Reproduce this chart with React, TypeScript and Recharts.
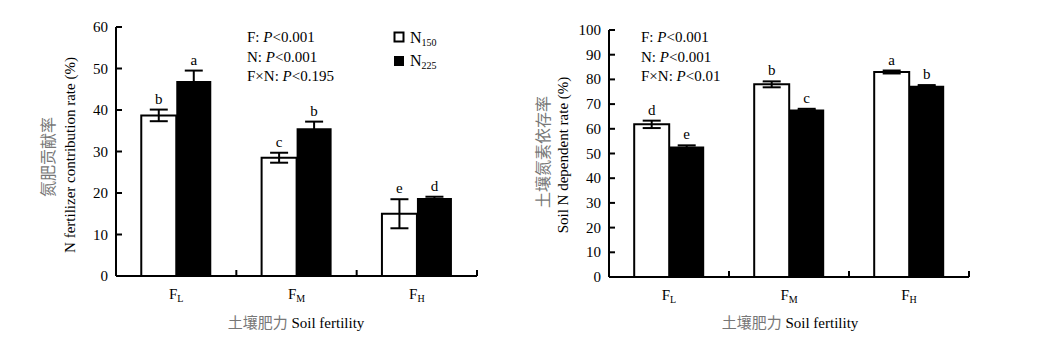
import React from "react";
import { Bar, BarChart, ErrorBar, LabelList, XAxis, YAxis } from "recharts";

const serif = "'Liberation Serif', 'Times New Roman', serif";
const cjk = "'Noto Sans CJK SC', sans-serif";

// soil fertility levels (subscripts of F)
const fertility = ["L", "M", "H"];

// left panel: N fertilizer contribution rate (%)
const contribN150 = [38.7, 28.5, 15.0];
const contribN150Err = [1.4, 1.2, 3.5];
const contribN225 = [47.0, 35.6, 18.8];
const contribN225Err = [2.5, 1.6, 0.3];
const contribN150Sig = ["b", "c", "e"];
const contribN225Sig = ["a", "b", "d"];
const contribTicks = [0, 10, 20, 30, 40, 50, 60];

// right panel: soil N dependent rate (%)
const dependN150 = [61.8, 78.0, 83.0];
const dependN150Err = [1.5, 1.2, 0.6];
const dependN225 = [52.8, 67.8, 77.4];
const dependN225Err = [0.5, 0.3, 0.3];
const dependN150Sig = ["d", "b", "a"];
const dependN225Sig = ["e", "c", "b"];
const dependTicks = [0, 10, 20, 30, 40, 50, 60, 70, 80, 90, 100];

function rows(a: number[], ae: number[], b: number[], be: number[]) {
  return fertility.map((f, i) => ({ f, n150: a[i], e150: ae[i], n225: b[i], e225: be[i] }));
}

const contribData = rows(contribN150, contribN150Err, contribN225, contribN225Err);
const dependData = rows(dependN150, dependN150Err, dependN225, dependN225Err);

function YTick(props: any) {
  const { x, y, payload } = props;
  return (
    <g>
      <line x1={x} x2={x + 6} y1={y} y2={y} stroke="#000" strokeWidth={2} />
      <text x={x - 8} y={y} dy={5} textAnchor="end" fontSize={15} fontFamily={serif} fill="#000">
        {payload.value}
      </text>
    </g>
  );
}

function XTick(props: any) {
  const { x, y, payload } = props;
  const off = payload.offset ?? 60;
  return (
    <g>
      <line x1={x + off} x2={x + off} y1={y} y2={y - 6} stroke="#000" strokeWidth={2} />
      <text x={x} y={y + 23} textAnchor="middle" fontSize={15} fontFamily={serif} fill="#000">
        F<tspan fontSize={10} dy={3}>{payload.value}</tspan>
      </text>
    </g>
  );
}

function sigLabel(letters: string[], errs: number[]) {
  return (props: any) => {
    const { x, y, width, height, value, index } = props;
    const pxPerUnit = value ? height / value : 0;
    const top = y - errs[index] * pxPerUnit;
    return (
      <text x={x + width / 2} y={top - 6} textAnchor="middle" fontSize={15} fontFamily={serif} fill="#000">
        {letters[index]}
      </text>
    );
  };
}

function Panel(props: {
  data: any[];
  width: number;
  max: number;
  ticks: number[];
  margin: { top: number; right: number; bottom: number; left: number };
  sig150: string[];
  sig225: string[];
  err150: number[];
  err225: number[];
}) {
  const { data, width, max, ticks, margin, sig150, sig225, err150, err225 } = props;
  return (
    <BarChart width={width} height={363} data={data} margin={margin} barGap={0} barCategoryGap="21%">
      <XAxis
        dataKey="f"
        interval={0}
        tickSize={0}
        tickMargin={0}
        height={30}
        axisLine={{ stroke: "#000", strokeWidth: 2 }}
        tickLine={false}
        tick={<XTick />}
      />
      <YAxis
        domain={[0, max]}
        ticks={ticks}
        width={60}
        tickSize={0}
        tickMargin={0}
        axisLine={{ stroke: "#000", strokeWidth: 2 }}
        tickLine={false}
        tick={<YTick />}
      />
      <Bar dataKey="n150" fill="#fff" stroke="#000" strokeWidth={2} isAnimationActive={false}>
        <ErrorBar dataKey="e150" width={9} strokeWidth={2} stroke="#000" direction="y" />
        <LabelList dataKey="n150" content={sigLabel(sig150, err150)} />
      </Bar>
      <Bar dataKey="n225" fill="#000" isAnimationActive={false}>
        <ErrorBar dataKey="e225" width={9} strokeWidth={2} stroke="#000" direction="y" />
        <LabelList dataKey="n225" content={sigLabel(sig225, err225)} />
      </Bar>
    </BarChart>
  );
}

function Stats({ x, fn }: { x: number; fn: string }) {
  const lines = [
    ["F: ", "<0.001"],
    ["N: ", "<0.001"],
    ["F×N: ", fn],
  ];
  return (
    <g fontFamily={serif} fontSize={15} fill="#000">
      {lines.map((l, i) => (
        <text key={i} x={x} y={42 + i * 19.5}>
          {l[0]}
          <tspan fontStyle="italic">P</tspan>
          {l[1]}
        </text>
      ))}
    </g>
  );
}

export default function App() {
  return (
    <div style={{ position: "absolute", left: 0, top: 0, width: 1052, height: 363, background: "#fff" }}>
      <div style={{ position: "absolute", left: 0, top: 0 }}>
        <Panel
          data={contribData}
          width={520}
          max={60}
          ticks={contribTicks}
          margin={{ top: 27, right: 43, bottom: 57, left: 56 }}
          sig150={contribN150Sig}
          sig225={contribN225Sig}
          err150={contribN150Err}
          err225={contribN225Err}
        />
      </div>
      <div style={{ position: "absolute", left: 520, top: 0 }}>
        <Panel
          data={dependData}
          width={532}
          max={100}
          ticks={dependTicks}
          margin={{ top: 30, right: 83, bottom: 56, left: 29 }}
          sig150={dependN150Sig}
          sig225={dependN225Sig}
          err150={dependN150Err}
          err225={dependN225Err}
        />
      </div>
      <svg
        width={1052}
        height={363}
        style={{ position: "absolute", left: 0, top: 0, pointerEvents: "none" }}
      >
        {/* left panel texts */}
        <text transform="translate(54,157) rotate(-90)" textAnchor="middle" fontFamily={cjk} fontSize={16} fill="#777">
          氮肥贡献率
        </text>
        <text transform="translate(75,155) rotate(-90)" textAnchor="middle" fontFamily={serif} fontSize={15} fill="#000">
          N fertilizer contribution rate (%)
        </text>
        <text x={296} y={328} textAnchor="middle" fontSize={15} fill="#000" fontFamily={serif}>
          <tspan fontFamily={cjk} fill="#777">土壤肥力</tspan> Soil fertility
        </text>
        <Stats x={247} fn="<0.195" />
        <rect x={394.5} y={32.5} width={9} height={9} fill="#fff" stroke="#000" strokeWidth={2} />
        <text x={410} y={43} fontFamily={serif} fontSize={16} fill="#000">
          N<tspan fontSize={10} dy={3}>150</tspan>
        </text>
        <rect x={394} y={56} width={10} height={10} fill="#000" />
        <text x={410} y={66} fontFamily={serif} fontSize={16} fill="#000">
          N<tspan fontSize={10} dy={3}>225</tspan>
        </text>

        {/* right panel texts */}
        <text transform="translate(549,152) rotate(-90)" textAnchor="middle" fontFamily={cjk} fontSize={16} fill="#777">
          土壤氮素依存率
        </text>
        <text transform="translate(568,155) rotate(-90)" textAnchor="middle" fontFamily={serif} fontSize={15} fill="#000">
          Soil N dependent rate (%)
        </text>
        <text x={790} y={328} textAnchor="middle" fontSize={15} fill="#000" fontFamily={serif}>
          <tspan fontFamily={cjk} fill="#777">土壤肥力</tspan> Soil fertility
        </text>
        <Stats x={641} fn="<0.01" />
      </svg>
    </div>
  );
}
